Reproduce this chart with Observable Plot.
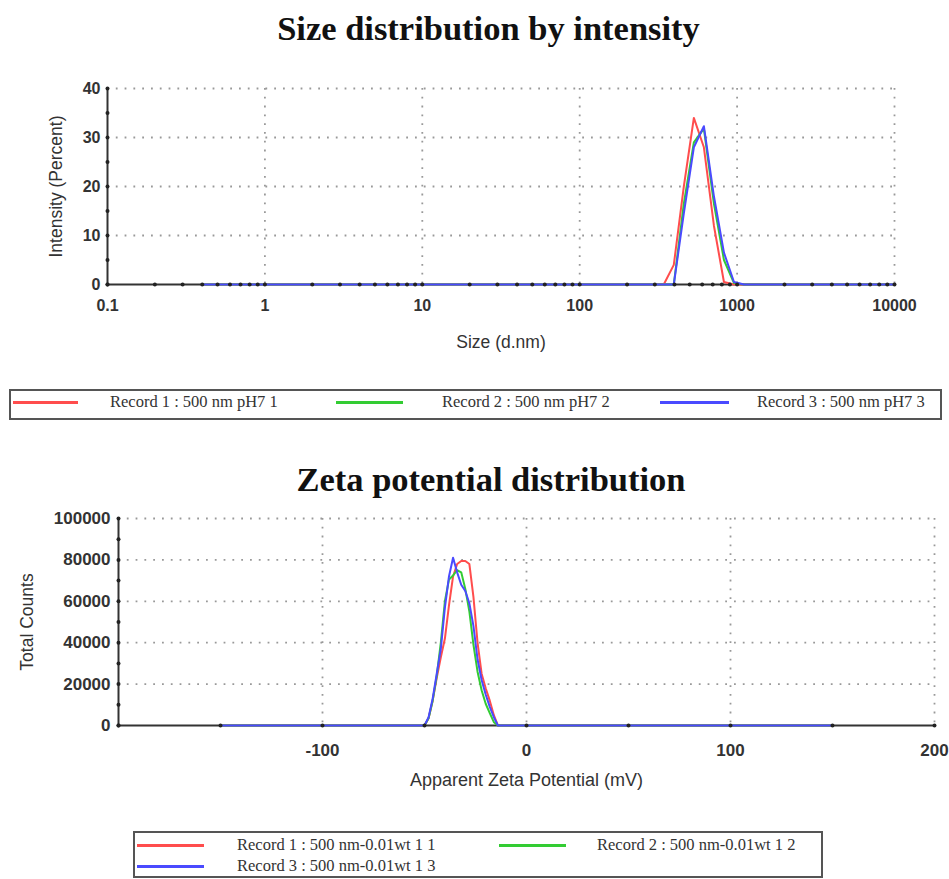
<!DOCTYPE html>
<html>
<head>
<meta charset="utf-8">
<script src="https://cdn.jsdelivr.net/npm/d3@7"></script>
<script src="https://cdn.jsdelivr.net/npm/@observablehq/plot@0.6"></script>
<style>
  body { margin: 0; background: #fff; }
  #page { position: relative; width: 949px; height: 879px; overflow: hidden; background: #fff; }
  .title { position: absolute; left: 0; font-family: "Liberation Serif", "Times New Roman", serif; font-weight: bold;
           font-size: 34.5px; line-height: 1; text-align: center; color: #111; white-space: nowrap; }
  .chart { position: absolute; left: 0; }
  .legend { position: absolute; border: 2px solid #555; box-sizing: border-box; }
  .sw { position: absolute; height: 3px; }
  .lt { position: absolute; font-family: "Liberation Serif", "Times New Roman", serif; font-size: 16.5px; line-height: 1;
        color: #333; white-space: nowrap; }
</style>
</head>
<body>
<div id="page"></div>
<script>
// ---------------- DATA ----------------
const seriesColors = ["#ff4d4d", "#33cc33", "#4a4aff"];

// Size distribution by intensity
const sizeBins    = [0.4, 295.3, 342.0, 396.1, 458.7, 531.2, 615.1, 712.4, 825.0, 955.4, 1106, 10000];
const sizeRecord1 = [0,   0,     0,     4,     20,    34,    28,    12,    0.5,   0,     0,    0];
const sizeRecord2 = [0,   0,     0,     0,     16.5,  29,    31.8,  16.5,  5,     0.3,   0,    0];
const sizeRecord3 = [0,   0,     0,     0,     14.5,  28,    32.3,  18,    6.5,   0.5,   0,    0];
const sizeXTicks  = [0.1, 1, 10, 100, 1000, 10000];
const sizeXLabels = ["0.1", "1", "10", "100", "1000", "10000"];
const sizeYTicks  = [0, 10, 20, 30, 40];
const sizeLegend  = ["Record 1 : 500 nm pH7 1", "Record 2 : 500 nm pH7 2", "Record 3 : 500 nm pH7 3"];

// Zeta potential distribution
const zetaMv      = [-150, -50, -48, -46, -44, -42, -40, -38, -36, -34, -32, -30, -28, -26, -24, -22, -20, -18, -16, -14, 150];
const zetaRecord1 = [0, 0, 3500, 12000, 23000, 33000, 42000, 58000, 72000, 78000, 79500, 79500, 78000, 62000, 40000, 25000, 18000, 12000, 5000, 0, 0];
const zetaRecord2 = [0, 0, 3500, 12000, 24000, 40000, 60000, 70500, 72500, 75000, 74000, 66000, 55000, 39000, 26000, 17000, 10500, 6000, 1600, 0, 0];
const zetaRecord3 = [0, 0, 4000, 13000, 25000, 37000, 57000, 72000, 81000, 74000, 68000, 65000, 59000, 48000, 32000, 22000, 15000, 9000, 4000, 0, 0];
const zetaXTicks  = [-100, 0, 100, 200];
const zetaXLabels = ["-100", "0", "100", "200"];
const zetaYTicks  = [0, 20000, 40000, 60000, 80000, 100000];
const zetaLegend  = ["Record 1 : 500 nm-0.01wt 1 1", "Record 2 : 500 nm-0.01wt 1 2", "Record 3 : 500 nm-0.01wt 1 3"];

// ---------------- BUILD ----------------
const page = document.getElementById("page");
const FONT = "'Liberation Sans', Arial, sans-serif";
const gridStyle = {stroke: "#999", strokeWidth: 1.8, strokeDasharray: "1.8,7"};
const axisStroke = {stroke: "#333", strokeWidth: 2};

function toRows(xs, ys) { return xs.map((x, i) => ({x, y: ys[i]})); }

function addTitle(text, top, width) {
  const d = document.createElement("div");
  d.className = "title";
  d.style.top = top + "px";
  d.style.width = width + "px";
  d.textContent = text;
  page.appendChild(d);
}

function addLegend(box, entries) {
  const b = document.createElement("div");
  b.className = "legend";
  Object.assign(b.style, {left: box.left + "px", top: box.top + "px", width: box.width + "px", height: box.height + "px"});
  page.appendChild(b);
  entries.forEach(e => {
    const s = document.createElement("div");
    s.className = "sw";
    Object.assign(s.style, {left: e.x0 + "px", width: (e.x1 - e.x0) + "px", top: (e.y - 1.5) + "px", background: e.color});
    page.appendChild(s);
    const t = document.createElement("div");
    t.className = "lt";
    Object.assign(t.style, {left: e.tx + "px", top: (e.y - 8) + "px"});
    t.textContent = e.label;
    page.appendChild(t);
  });
}

// ---- Chart 1: size distribution ----
addTitle("Size distribution by intensity", 11, 977);

const sizeTickMap = new Map(sizeXTicks.map((t, i) => [t, sizeXLabels[i]]));
const sizeMinorX = d3.range(-1, 4).flatMap(e => d3.range(2, 10).map(m => +(m * Math.pow(10, e)).toPrecision(3)));
const sizeMinorY = [5, 15, 25, 35];

const chart1 = Plot.plot({
  width: 949, height: 290,
  marginTop: 18, marginBottom: 76, marginLeft: 107, marginRight: 55,
  style: {fontFamily: FONT, background: "transparent", overflow: "visible"},
  x: {type: "log", domain: [0.1, 10000]},
  y: {domain: [0, 40]},
  marks: [
    Plot.ruleX(sizeXTicks.slice(1), gridStyle),
    Plot.ruleY(sizeYTicks.slice(1), gridStyle),
    Plot.ruleX([0.1], axisStroke),
    Plot.ruleY([0], axisStroke),
    Plot.line(toRows(sizeBins, sizeRecord1), {x: "x", y: "y", stroke: seriesColors[0], strokeWidth: 2}),
    Plot.line(toRows(sizeBins, sizeRecord2), {x: "x", y: "y", stroke: seriesColors[1], strokeWidth: 2}),
    Plot.line(toRows(sizeBins, sizeRecord3), {x: "x", y: "y", stroke: seriesColors[2], strokeWidth: 2}),
    Plot.dot(sizeMinorX.concat(sizeXTicks).map(x => ({x, y: 0})), {x: "x", y: "y", r: 2, fill: "#222"}),
    Plot.dot(sizeMinorY.concat(sizeYTicks).map(y => ({x: 0.1, y})), {x: "x", y: "y", r: 2, fill: "#222"}),
    Plot.axisX({ticks: sizeXTicks, tickFormat: d => sizeTickMap.get(d), tickSize: 0, tickPadding: 15,
                fontSize: 16, fontWeight: "bold", fill: "#333", label: null}),
    Plot.axisY({ticks: sizeYTicks, tickFormat: d => String(d), tickSize: 0, tickPadding: 7,
                fontSize: 16, fontWeight: "bold", fill: "#333", label: null}),
    Plot.text(["Size (d.nm)"], {text: d => d, frameAnchor: "bottom", dy: 57.5, textAnchor: "middle", lineAnchor: "middle",
                fontSize: 17.5, fill: "#333"}),
    Plot.text(["Intensity (Percent)"], {text: d => d, frameAnchor: "left", dx: -51, rotate: -90, textAnchor: "middle",
                lineAnchor: "middle", fontSize: 17.5, fill: "#333"})
  ]
});
chart1.classList.add("chart");
chart1.style.top = "70px";
page.appendChild(chart1);

addLegend({left: 9, top: 389, width: 933, height: 31}, [
  {x0: 13, x1: 78, y: 402, tx: 110, label: sizeLegend[0], color: seriesColors[0]},
  {x0: 336, x1: 403, y: 402, tx: 442, label: sizeLegend[1], color: seriesColors[1]},
  {x0: 660, x1: 729, y: 402, tx: 757, label: sizeLegend[2], color: seriesColors[2]}
]);

// ---- Chart 2: zeta potential ----
addTitle("Zeta potential distribution", 462, 982);

const zetaTickMap = new Map(zetaXTicks.map((t, i) => [t, zetaXLabels[i]]));
const zetaMinorX = [-200, -150, -50, 50, 150];
const zetaMinorY = [10000, 30000, 50000, 70000, 90000];

const chart2 = Plot.plot({
  width: 949, height: 300,
  marginTop: 13, marginBottom: 80, marginLeft: 118, marginRight: 15,
  style: {fontFamily: FONT, background: "transparent", overflow: "visible"},
  x: {domain: [-200, 200]},
  y: {domain: [0, 100000]},
  marks: [
    Plot.ruleX(zetaXTicks, gridStyle),
    Plot.ruleY(zetaYTicks.slice(1), gridStyle),
    Plot.ruleX([-200], axisStroke),
    Plot.ruleY([0], axisStroke),
    Plot.line(toRows(zetaMv, zetaRecord1), {x: "x", y: "y", stroke: seriesColors[0], strokeWidth: 2}),
    Plot.line(toRows(zetaMv, zetaRecord2), {x: "x", y: "y", stroke: seriesColors[1], strokeWidth: 2}),
    Plot.line(toRows(zetaMv, zetaRecord3), {x: "x", y: "y", stroke: seriesColors[2], strokeWidth: 2}),
    Plot.dot(zetaMinorX.concat(zetaXTicks).map(x => ({x, y: 0})), {x: "x", y: "y", r: 2, fill: "#222"}),
    Plot.dot(zetaMinorY.concat(zetaYTicks).map(y => ({x: -200, y})), {x: "x", y: "y", r: 2, fill: "#222"}),
    Plot.axisX({ticks: zetaXTicks, tickFormat: d => zetaTickMap.get(d), tickSize: 0, tickPadding: 18,
                fontSize: 17, fontWeight: "bold", fill: "#333", label: null}),
    Plot.axisY({ticks: zetaYTicks, tickFormat: d => String(d), tickSize: 0, tickPadding: 8,
                fontSize: 17, fontWeight: "bold", fill: "#333", label: null}),
    Plot.text(["Apparent Zeta Potential (mV)"], {text: d => d, frameAnchor: "bottom", dy: 55, textAnchor: "middle",
                lineAnchor: "middle", fontSize: 18, fill: "#333"}),
    Plot.text(["Total Counts"], {text: d => d, frameAnchor: "left", dx: -91, rotate: -90, textAnchor: "middle",
                lineAnchor: "middle", fontSize: 17.5, fill: "#333"})
  ]
});
chart2.classList.add("chart");
chart2.style.top = "505px";
page.appendChild(chart2);

addLegend({left: 133, top: 831, width: 690, height: 47}, [
  {x0: 137, x1: 204, y: 845, tx: 237, label: zetaLegend[0], color: seriesColors[0]},
  {x0: 499, x1: 566, y: 845, tx: 597, label: zetaLegend[1], color: seriesColors[1]},
  {x0: 137, x1: 204, y: 866, tx: 237, label: zetaLegend[2], color: seriesColors[2]}
]);
</script>
</body>
</html>
